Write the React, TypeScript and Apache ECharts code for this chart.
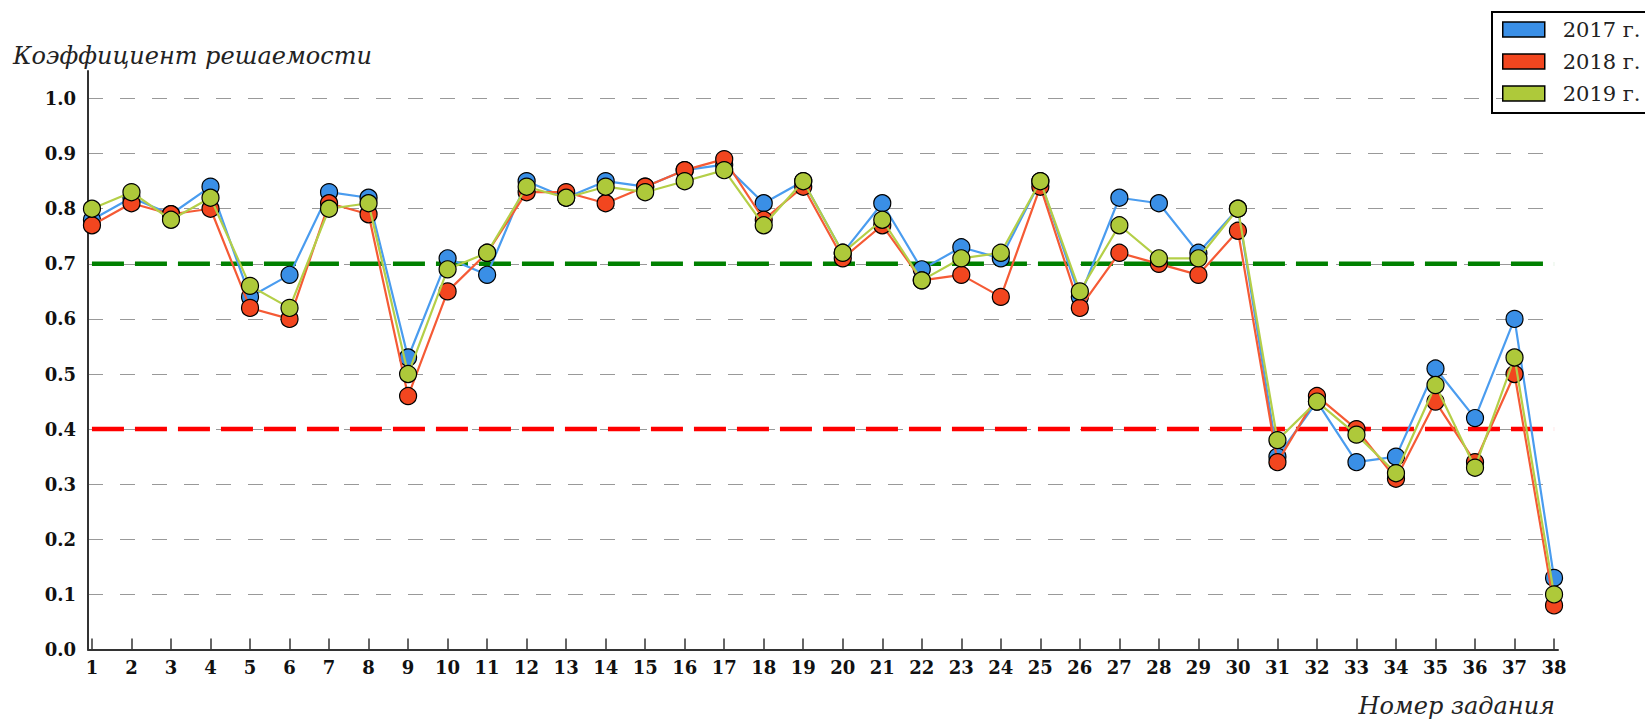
import React, { useEffect, useRef } from "react";
import * as echarts from "echarts";

const tasks: number[] = Array.from({ length: 38 }, (_, i) => i + 1);
const yTicks: number[] = [0, 0.1, 0.2, 0.3, 0.4, 0.5, 0.6, 0.7, 0.8, 0.9, 1.0];

const seriesNames = ["2017 г.", "2018 г.", "2019 г."];

const v2017 = [0.78, 0.82, 0.79, 0.84, 0.64, 0.68, 0.83, 0.82, 0.53, 0.71, 0.68, 0.85, 0.82, 0.85, 0.84, 0.87, 0.88, 0.81, 0.85, 0.72, 0.81, 0.69, 0.73, 0.71, 0.85, 0.64, 0.82, 0.81, 0.72, 0.80, 0.35, 0.45, 0.34, 0.35, 0.51, 0.42, 0.60, 0.13];
const v2018 = [0.77, 0.81, 0.79, 0.80, 0.62, 0.60, 0.81, 0.79, 0.46, 0.65, 0.72, 0.83, 0.83, 0.81, 0.84, 0.87, 0.89, 0.78, 0.84, 0.71, 0.77, 0.67, 0.68, 0.64, 0.84, 0.62, 0.72, 0.70, 0.68, 0.76, 0.34, 0.46, 0.40, 0.31, 0.45, 0.34, 0.50, 0.08];
const v2019 = [0.80, 0.83, 0.78, 0.82, 0.66, 0.62, 0.80, 0.81, 0.50, 0.69, 0.72, 0.84, 0.82, 0.84, 0.83, 0.85, 0.87, 0.77, 0.85, 0.72, 0.78, 0.67, 0.71, 0.72, 0.85, 0.65, 0.77, 0.71, 0.71, 0.80, 0.38, 0.45, 0.39, 0.32, 0.48, 0.33, 0.53, 0.10];

const thresholdHigh = 0.7;
const thresholdLow = 0.4;

const markerColors = ["#3a8fe6", "#f2461f", "#aec93a"];
const lineColors = ["#4a9cef", "#f55a35", "#b4cf48"];

const App: React.FC = () => {
  const ref = useRef<HTMLDivElement>(null);

  useEffect(() => {
    if (!ref.current) return;
    const chart = echarts.init(ref.current, null, { renderer: "svg" });
    const values = [v2017, v2018, v2019];
    const dataSeries = values.map((vals, i) => ({
      name: seriesNames[i],
      type: "line" as const,
      data: tasks.map((t, j) => [t, vals[j]]),
      symbol: "circle",
      symbolSize: 17,
      lineStyle: { color: lineColors[i], width: 2.2 },
      itemStyle: { color: markerColors[i], borderColor: "#000", borderWidth: 1.2 },
      z: 3 + i,
    }));
    const refLine = (val: number, color: string) => ({
      name: "ref" + val,
      type: "line" as const,
      data: [
        [tasks[0], val],
        [tasks[tasks.length - 1], val],
      ],
      symbol: "none",
      lineStyle: { color, width: 4.5, type: [32, 11] as any },
      silent: true,
      z: 2,
    });

    chart.setOption({
      animation: false,
      textStyle: { fontFamily: "DejaVu Serif" },
      grid: { left: 88, right: 87, top: 71, bottom: 72.5, containLabel: false },
      legend: {
        data: seriesNames,
        orient: "vertical",
        left: 1502,
        top: 19,
        icon: "rect",
        itemWidth: 42,
        itemHeight: 15,
        itemGap: 11,
        padding: 0,
        itemStyle: { borderColor: "#000", borderWidth: 1.5 },
        formatter: (name: string) => `{t|${name}}`,
        textStyle: {
          fontFamily: "DejaVu Serif",
          fontSize: 21,
          color: "#222",
          rich: { t: { fontFamily: "DejaVu Serif", fontSize: 21, color: "#222", padding: [0, 0, 0, 13] } },
        },
      },
      xAxis: {
        type: "value",
        min: 0.9,
        max: 38.1,
        axisLine: { show: true, lineStyle: { color: "#333", width: 2 } },
        axisTick: { show: true, inside: true, length: 11, customValues: tasks, lineStyle: { color: "#333", width: 1.5 } },
        axisLabel: {
          customValues: tasks,
          fontFamily: "DejaVu Serif",
          fontWeight: "bold",
          fontSize: 18,
          color: "#111",
          margin: 9,
        },
        splitLine: { show: false },
      },
      yAxis: {
        type: "value",
        min: 0,
        max: 1.05,
        axisLine: { show: true, lineStyle: { color: "#333", width: 2 } },
        axisTick: { show: false, customValues: yTicks },
        axisLabel: {
          customValues: yTicks,
          formatter: (v: number) => v.toFixed(1),
          fontFamily: "DejaVu Serif",
          fontWeight: "bold",
          fontSize: 18,
          color: "#111",
          margin: 12,
        },
        splitLine: { show: true, lineStyle: { color: "#999", width: 1.2, type: [15, 17] as any } },
      },
      graphic: [
        {
          type: "rect",
          z: 0,
          shape: { x: 1492, y: 12, width: 160, height: 101 },
          style: { fill: "#fff", stroke: "#000", lineWidth: 2 },
        },
        {
          type: "text",
          left: 13,
          top: 44,
          style: { text: "Коэффициент решаемости", font: "italic 24px 'DejaVu Serif'", fill: "#222" },
        },
        {
          type: "text",
          right: 90,
          top: 694,
          style: { text: "Номер задания", font: "italic 24px 'DejaVu Serif'", fill: "#222" },
        },
      ],
      series: [refLine(thresholdHigh, "#008000"), refLine(thresholdLow, "#ff0000"), ...dataSeries],
    });
    return () => chart.dispose();
  }, []);

  return <div ref={ref} style={{ position: "absolute", left: 0, top: 0, width: 1645, height: 722 }} />;
};

export default App;
